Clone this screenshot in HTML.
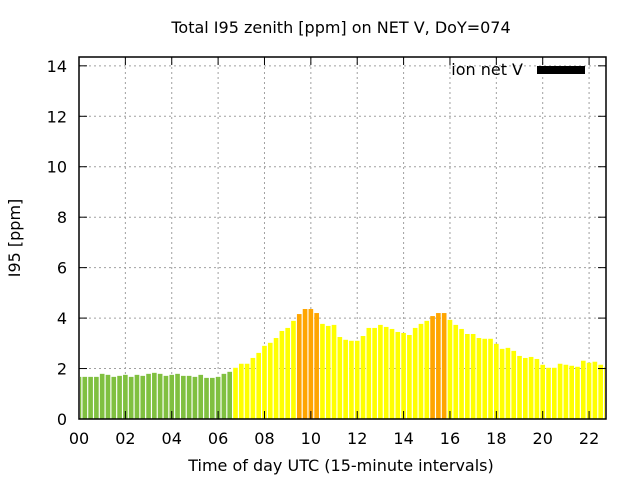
<!DOCTYPE html>
<html><head><meta charset="utf-8"><style>
body{margin:0;background:#fff;}
svg{display:block;font-family:"DejaVu Sans","Liberation Sans",sans-serif;}
</style></head><body>
<svg id="chart" width="640" height="480">
<text x="341" y="33" font-size="16" text-anchor="middle">Total I95 zenith [ppm] on NET V, DoY=074</text>
<text transform="translate(20,238) rotate(-90)" font-size="16" text-anchor="middle">I95 [ppm]</text>
<text x="341" y="471" font-size="16" text-anchor="middle">Time of day UTC (15-minute intervals)</text>
<g id="grid"></g><g id="bars"></g><g id="axes"></g>
<g>
<text x="523" y="75" font-size="16" text-anchor="end">ion net V</text>
<rect x="537" y="66" width="48" height="8" fill="#000"/>
</g>
</svg>
<script>
const values=[1.67,1.67,1.67,1.67,1.79,1.75,1.67,1.71,1.75,1.67,1.75,1.71,1.79,1.83,1.79,1.71,1.75,1.79,1.71,1.71,1.67,1.75,1.63,1.63,1.67,1.79,1.87,
2.03,2.19,2.19,2.42,2.62,2.90,3.02,3.21,3.49,3.61,3.89,4.16,4.36,4.36,4.20,3.77,3.69,3.73,3.25,3.14,3.10,3.10,3.29,3.61,3.61,3.73,3.65,3.57,3.45,3.41,3.33,3.61,3.77,3.89,4.08,4.20,4.20,3.93,3.73,3.57,3.37,3.37,3.21,3.18,3.18,2.98,2.78,2.82,2.70,2.50,2.42,2.46,2.38,2.15,2.03,2.03,2.19,2.15,2.11,2.07,2.31,2.23,2.27,2.15,2.07];
const greenCount=27;
const yTicks=[0,2,4,6,8,10,12,14];
const xTicks=[0,2,4,6,8,10,12,14,16,18,20,22];
const xTickLabels=["00","02","04","06","08","10","12","14","16","18","20","22"];
const L=79,R=606,T=57,B=419;
const xMax=22.73,yMax=14.35;
const xs=h=>L+h/xMax*(R-L);
const ys=v=>B-v/yMax*(B-T);
const NS="http://www.w3.org/2000/svg";
function mk(t,a,p){const e=document.createElementNS(NS,t);for(const k in a)e.setAttribute(k,a[k]);p.appendChild(e);return e;}
const grid=document.getElementById('grid'),bars=document.getElementById('bars'),axes=document.getElementById('axes');
yTicks.forEach((v,i)=>{
 if(v>0){const g=mk('line',{x1:L,x2:R,y1:ys(v),y2:ys(v),stroke:'#a0a0a0','stroke-dasharray':'2,3'},grid);
 
 }
 const t=mk('text',{x:L-12,y:ys(v)+6,'font-size':16,'text-anchor':'end'},axes);t.textContent=v;
 
 
 mk('line',{x1:L,x2:L+8,y1:ys(v),y2:ys(v),stroke:'#000'},axes);
 mk('line',{x1:R,x2:R-8,y1:ys(v),y2:ys(v),stroke:'#000'},axes);
});
xTicks.forEach((h,i)=>{
 if(h>0){const g=mk('line',{x1:xs(h),x2:xs(h),y1:T,y2:B,stroke:'#a0a0a0','stroke-dasharray':'2,3'},grid);
 
 }
 const t=mk('text',{x:xs(h),y:B+25,'font-size':16,'text-anchor':'middle'},axes);t.textContent=xTickLabels[i];
 
 
 mk('line',{x1:xs(h),x2:xs(h),y1:B,y2:B-8,stroke:'#000'},axes);
 mk('line',{x1:xs(h),x2:xs(h),y1:T,y2:T+8,stroke:'#000'},axes);
});
const bw=0.2*(R-L)/xMax;
values.forEach((v,i)=>{
 const c=xs(i*0.25);let x1=Math.max(L+1,c-bw/2),x2=Math.min(R-1,c+bw/2);
 if(x2<=x1)return;
 const col=i<greenCount?'#80c040':(v>=4?'#ffa500':'#ffff00');
 const r=mk('rect',{x:x1,y:ys(v),width:x2-x1,height:B-ys(v),fill:col},bars);
 
 
});
const f=mk('rect',{x:L,y:T,width:R-L,height:B-T,fill:'none',stroke:'#000','stroke-width':1.5},axes);


</script>
</body></html>
